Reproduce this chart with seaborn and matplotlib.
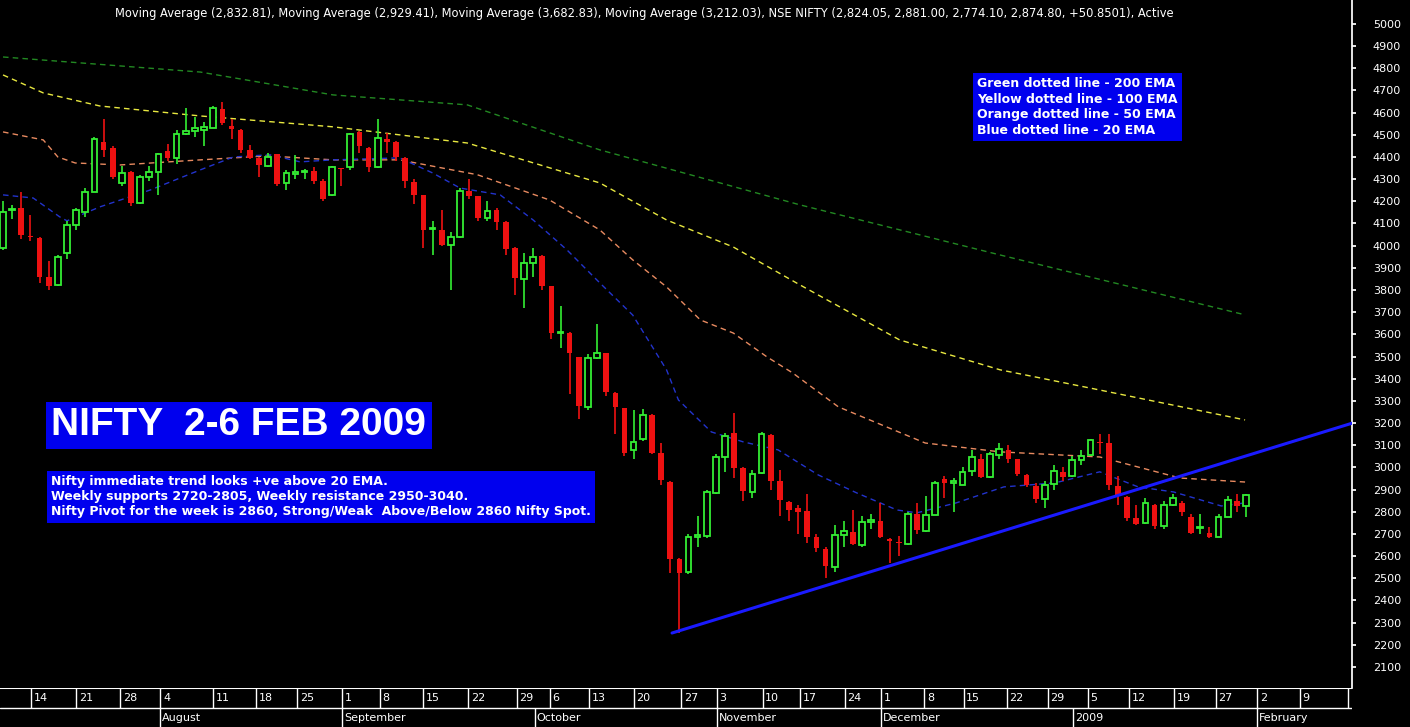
import matplotlib
matplotlib.use("Agg")
import matplotlib.pyplot as plt
import seaborn as sns
import pandas as pd

# daily candles, Jul 10 2008 .. Jan 30 2009 (open, high, low, close)
opens = [3990, 4160, 4170, 4045, 4035, 3860, 3823, 3967, 4094, 4152, 4242, 4468, 4441, 4283, 4333, 4193, 4310, 4333,
         4427, 4396, 4504, 4517, 4520, 4531, 4617, 4540, 4522, 4432, 4395, 4360, 4414, 4283, 4325, 4332, 4335, 4292,
         4229, 4348, 4355, 4512, 4441, 4355, 4482, 4468, 4396, 4288, 4229, 4075, 4071, 4004, 4040, 4247, 4224, 4125,
         4161, 4107, 3990, 3850, 3922, 3954, 3818, 3605, 3606, 3498, 3273, 3494, 3516, 3336, 3268, 3080, 3128, 3237,
         3065, 2935, 2587, 2529, 2686, 2690, 2885, 3047, 3155, 2997, 2889, 2975, 3146, 2939, 2844, 2815, 2804, 2686,
         2632, 2551, 2695, 2709, 2650, 2754, 2758, 2675, 2662, 2655, 2790, 2713, 2786, 2948, 2930, 2921, 2984, 3038,
         2957, 3056, 3079, 3038, 2966, 2916, 2858, 2926, 2980, 2961, 3034, 3056, 3115, 3110, 2916, 2867, 2772, 2750,
         2831, 2736, 2831, 2840, 2777, 2725, 2705, 2686, 2777, 2848, 2824]
highs = [4200, 4185, 4240, 4140, 4040, 3930, 3960, 4110, 4170, 4260, 4490, 4570, 4450, 4360, 4335, 4320, 4360, 4420,
         4460, 4520, 4620, 4580, 4560, 4630, 4650, 4570, 4525, 4455, 4400, 4420, 4415, 4340, 4410, 4345, 4355, 4300,
         4360, 4350, 4510, 4515, 4445, 4570, 4510, 4470, 4398, 4300, 4230, 4110, 4160, 4060, 4260, 4300, 4225, 4200,
         4170, 4110, 3995, 3965, 3990, 3960, 3820, 3730, 3610, 3500, 3510, 3647, 3517, 3340, 3270, 3260, 3262, 3240,
         3110, 2940, 2590, 2700, 2780, 2900, 3060, 3155, 3246, 3000, 2990, 3160, 3150, 2990, 2850, 2830, 2880, 2700,
         2640, 2740, 2760, 2810, 2780, 2790, 2840, 2680, 2690, 2800, 2840, 2870, 2940, 2960, 2950, 3000, 3080, 3060,
         3070, 3110, 3100, 3040, 2970, 2930, 2940, 3010, 3000, 3050, 3080, 3130, 3150, 3150, 2960, 2870, 2830, 2860,
         2835, 2850, 2880, 2850, 2790, 2790, 2730, 2790, 2870, 2880, 2881]
lows = [3980, 4120, 4030, 4020, 3830, 3800, 3820, 3940, 4070, 4130, 4240, 4400, 4300, 4270, 4180, 4190, 4290, 4230,
        4380, 4370, 4500, 4490, 4450, 4530, 4545, 4480, 4420, 4390, 4310, 4355, 4270, 4250, 4300, 4300, 4280, 4200,
        4225, 4270, 4340, 4420, 4330, 4350, 4420, 4380, 4260, 4190, 3990, 3960, 4000, 3800, 4035, 4210, 4110, 4110,
        4070, 3960, 3778, 3719, 3860, 3800, 3580, 3540, 3331, 3220, 3260, 3490, 3320, 3150, 3050, 3040, 3120, 3060,
        2920, 2525, 2253, 2520, 2640, 2680, 2880, 2980, 2950, 2850, 2860, 2970, 2900, 2780, 2760, 2700, 2660, 2620,
        2501, 2530, 2640, 2650, 2640, 2720, 2680, 2569, 2600, 2650, 2700, 2710, 2785, 2860, 2800, 2920, 2960, 2950,
        2950, 3040, 3020, 2960, 2910, 2840, 2815, 2900, 2940, 2955, 3010, 3050, 3060, 2900, 2830, 2760, 2740, 2745,
        2720, 2720, 2825, 2780, 2700, 2700, 2680, 2685, 2775, 2800, 2774]
closes = [4153, 4165, 4048, 4040, 3860, 3818, 3950, 4094, 4160, 4242, 4481, 4432, 4310, 4328, 4193, 4310, 4333, 4414,
          4396, 4504, 4517, 4530, 4535, 4621, 4553, 4528, 4432, 4396, 4365, 4400, 4279, 4326, 4333, 4336, 4290, 4211,
          4355, 4345, 4504, 4450, 4355, 4486, 4468, 4400, 4292, 4229, 4071, 4080, 4004, 4040, 4247, 4225, 4125, 4157,
          4107, 3985, 3855, 3922, 3949, 3818, 3606, 3611, 3516, 3277, 3494, 3516, 3340, 3273, 3065, 3115, 3237, 3065,
          2943, 2587, 2524, 2686, 2695, 2889, 3047, 3142, 2997, 2894, 2970, 3151, 2939, 2853, 2808, 2800, 2686, 2637,
          2556, 2695, 2713, 2655, 2754, 2763, 2686, 2668, 2658, 2790, 2718, 2786, 2930, 2930, 2938, 2980, 3047, 2957,
          3061, 3083, 3038, 2970, 2921, 2858, 2921, 2984, 2957, 3034, 3052, 3124, 3110, 2921, 2871, 2772, 2745, 2840,
          2736, 2831, 2862, 2800, 2705, 2727, 2686, 2777, 2853, 2826, 2875]

# moving averages sampled along the bar axis
ema200_pos = [0, 21.6, 36.1, 50.8, 65.3, 87.2, 109.1, 135.9]
ema200_val = [4851, 4783, 4680, 4635, 4432, 4184, 3958, 3688]
ema100_pos = [0, 4.4, 10.6, 21.6, 36.1, 50.8, 65.3, 72.6, 79.9, 87.2, 98.1, 109.1, 120, 135.9]
ema100_val = [4770, 4689, 4630, 4585, 4536, 4463, 4283, 4116, 3994, 3823, 3575, 3440, 3349, 3214]
ema50_pos = [0, 4.4, 6, 7.9, 12.8, 21.6, 28.9, 36.1, 43.4, 51.9, 59.8, 65.3, 68.9, 72.6, 76.3, 79.9, 83.6, 86.4,
             91.4, 100.9, 109.1, 120, 128.8, 135.9]
ema50_val = [4513, 4477, 4400, 4373, 4364, 4387, 4405, 4387, 4387, 4320, 4206, 4071, 3936, 3814, 3665, 3606, 3498,
             3426, 3273, 3110, 3070, 3047, 2952, 2934]
ema20_pos = [0, 3.3, 6.2, 7, 10.6, 16.1, 21.6, 25.2, 29.2, 32.5, 36.1, 43.4, 47, 50, 54.4, 58, 61.7, 65.3, 68.9,
             72.6, 73.9, 77.5, 81, 84.8, 89.2, 93.4, 97.8, 100, 104.3, 109.5, 115.1, 120, 124.2, 128.1, 133.3, 135.9]
ema20_val = [4229, 4215, 4130, 4112, 4175, 4251, 4342, 4400, 4410, 4378, 4387, 4396, 4328, 4260, 4229, 4116, 3981,
             3832, 3687, 3440, 3304, 3160, 3115, 3079, 2966, 2885, 2808, 2795, 2840, 2912, 2930, 2980, 2912, 2889,
             2826, 2840]
trend_pos = [73.2, 152.3]
trend_val = [2253, 3259]

week_pos = [3.1, 8, 12.8, 17.2, 23, 27.7, 32.2, 37.1, 41.2, 46, 50.9, 56.2, 59.8, 64.1, 69, 74.2, 78.1, 83.1,
            87.2, 92.1, 96.1, 100.8, 105.1, 109.8, 114.3, 118.7, 123.2, 128.1, 132.7, 137.2, 141.9, 147.2]
week_lbl = ["14", "21", "28", "4", "11", "18", "25", "1", "8", "15", "22", "29", "6", "13", "20", "27", "3", "10",
            "17", "24", "1", "8", "15", "22", "29", "5", "12", "19", "27", "2", "9", "1"]
month_pos = [17.2, 37.1, 58.2, 78.1, 96.1, 117.1, 137.2]
month_lbl = ["August", "September", "October", "November", "December", "2009", "February"]

title = ("Moving Average (2,832.81), Moving Average (2,929.41), Moving Average (3,682.83), "
         "Moving Average (3,212.03), NSE NIFTY (2,824.05, 2,881.00, 2,774.10, 2,874.80, +50.8501), Active")

sns.set_theme(style="dark", rc={"axes.facecolor": "black", "figure.facecolor": "black"})
plt.rcParams['font.family'] = ['DejaVu Sans']

W, H = 1410, 727
fig = plt.figure(figsize=(14.1, 7.27), dpi=100)
ax = fig.add_axes([0, 1 - 688 / H, 1352 / W, 688 / H])
ax.set_facecolor("black")

df = pd.DataFrame({"o": opens, "h": highs, "l": lows, "c": closes})
df["i"] = range(len(df))
up = df[df.c >= df.o]
dn = df[df.c < df.o]
ax.vlines(up.i, up.l, up.h, color="#33ee33", lw=1.2, zorder=3)
ax.vlines(dn.i, dn.l, dn.h, color="#ee1111", lw=1.2, zorder=3)
ax.bar(up.i, (up.c - up.o).clip(lower=4), bottom=up.o, width=0.62, facecolor="black",
       edgecolor="#33ee33", lw=1.3, zorder=4)
ax.bar(dn.i, (dn.o - dn.c).clip(lower=4), bottom=dn.c, width=0.62, color="#ee1111", lw=0, zorder=4)

for pos, val, col in [(ema200_pos, ema200_val, "#228822"), (ema100_pos, ema100_val, "#e8e840"),
                      (ema50_pos, ema50_val, "#e88a60"), (ema20_pos, ema20_val, "#2233cc")]:
    sns.lineplot(x=pos, y=val, ax=ax, color=col, lw=1, linestyle=(0, (4, 3)), zorder=2)
sns.lineplot(x=trend_pos, y=trend_val, ax=ax, color="#1a1aff", lw=2.2, zorder=5)

ax.set_xlim(-0.33, 147.6)
ax.set_ylim(2005, 5108)
ax.yaxis.tick_right()
ax.set_yticks(range(2100, 5001, 100))
ax.tick_params(axis="y", colors="white", labelsize=8, length=3, pad=12, right=True)
ax.set_xticks([])
for s in ax.spines.values():
    s.set_visible(False)
ax.spines["right"].set_visible(True)
ax.spines["right"].set_color("white")
ax.grid(False)

fig.text(115 / W, 1 - 14 / H, title, color="white", fontsize=8.3, va="center", ha="left")

ax.text(5.3, 3190, "NIFTY  2-6 FEB 2009", color="white", fontsize=28, fontweight="bold",
        family="Liberation Sans", va="center",
        bbox=dict(facecolor="#0000ee", edgecolor="none", pad=4))
ax.text(5.3, 2867, "Nifty immediate trend looks +ve above 20 EMA.\nWeekly supports 2720-2805, Weekly resistance 2950-3040.\n"
        "Nifty Pivot for the week is 2860, Strong/Weak  Above/Below 2860 Nifty Spot.",
        color="white", fontsize=9, fontweight="bold", va="center", linespacing=1.2,
        bbox=dict(facecolor="#0000ee", edgecolor="none", pad=3))
ax.text(106.6, 4626, "Green dotted line - 200 EMA\nYellow dotted line - 100 EMA\nOrange dotted line - 50 EMA\n"
        "Blue dotted line - 20 EMA", color="white", fontsize=9, fontweight="bold", va="center",
        linespacing=1.25, bbox=dict(facecolor="#0000ee", edgecolor="none", pad=3))

# date strip
bx = fig.add_axes([0, 0, 1352 / W, 39 / H], sharex=ax)
bx.set_facecolor("black")
bx.set_ylim(0, 2)
bx.axis("off")
bx.axhline(2, color="white", lw=1.5)
bx.axhline(1, color="white", lw=1)
bx.vlines(week_pos, 1, 2, color="white", lw=1)
bx.vlines(month_pos, 0, 1, color="white", lw=1)
for p, t in zip(week_pos, week_lbl):
    bx.text(p + 0.3, 1.5, t, color="white", fontsize=8, va="center", clip_on=True)
for p, t in zip(month_pos, month_lbl):
    bx.text(p + 0.2, 0.45, t, color="white", fontsize=8, va="center")

fig.savefig("out.png", dpi=100, facecolor="black")
